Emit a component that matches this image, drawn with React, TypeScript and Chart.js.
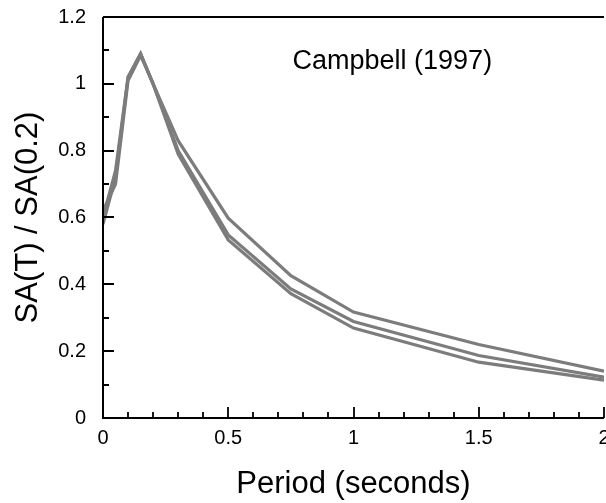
import { useEffect, useRef } from 'react';
import { Chart, registerables } from 'chart.js';

Chart.register(...registerables);

// ---- data ----
const periods = [0, 0.05, 0.1, 0.15, 0.2, 0.3, 0.5, 0.75, 1.0, 1.5, 2.0];
const upperCurve = [0.6, 0.74, 1.02, 1.09, 1.0, 0.83, 0.598, 0.426, 0.317, 0.22, 0.14];
const middleCurve = [0.62, 0.7, 1.01, 1.085, 1.0, 0.8, 0.548, 0.386, 0.289, 0.187, 0.122];
const lowerCurve = [0.58, 0.72, 1.02, 1.09, 1.0, 0.79, 0.533, 0.372, 0.269, 0.167, 0.113];
const curves = [upperCurve, middleCurve, lowerCurve];

const xMin = 0, xMax = 2, xMajor = 0.5, xMinor = 0.1;
const yMin = 0, yMax = 1.2, yMajor = 0.2, yMinor = 0.1;

const xTitle = 'Period (seconds)';
const yTitle = 'SA(T) / SA(0.2)';
const noteText = 'Campbell (1997)';
const noteX = 1.155;
const noteY = 1.044;

const FONT = "'Liberation Sans', Arial, Helvetica, sans-serif";
const W = 650;
const H = 503;

const fmt = (v: any) => String(+Number(v).toFixed(3));

const frame = {
  id: 'frame',
  afterDraw(chart: any) {
    const { ctx, chartArea, scales } = chart;
    const { left, right, top, bottom } = chartArea;
    ctx.save();
    ctx.strokeStyle = '#000';
    ctx.lineWidth = 2;
    ctx.beginPath();
    ctx.moveTo(left, top);
    ctx.lineTo(right, top);
    ctx.moveTo(left, top);
    ctx.lineTo(left, bottom);
    ctx.lineTo(right, bottom);
    ctx.stroke();
    ctx.lineWidth = 1.8;
    ctx.beginPath();
    const nx = Math.round((xMax - xMin) / xMinor);
    for (let i = 0; i <= nx; i++) {
      const v = xMin + i * xMinor;
      const major = Math.abs(v / xMajor - Math.round(v / xMajor)) < 1e-6;
      const px = Math.round(scales.x.getPixelForValue(v));
      ctx.moveTo(px, bottom);
      ctx.lineTo(px, bottom - (major ? 11 : 6));
    }
    const ny = Math.round((yMax - yMin) / yMinor);
    for (let i = 0; i <= ny; i++) {
      const v = yMin + i * yMinor;
      const major = Math.abs(v / yMajor - Math.round(v / yMajor)) < 1e-6;
      const py = Math.round(scales.y.getPixelForValue(v));
      ctx.moveTo(left, py);
      ctx.lineTo(left + (major ? 11 : 6), py);
    }
    ctx.stroke();
    ctx.fillStyle = '#000';
    ctx.font = `27px ${FONT}`;
    ctx.textAlign = 'center';
    ctx.textBaseline = 'alphabetic';
    ctx.fillText(noteText, scales.x.getPixelForValue(noteX), scales.y.getPixelForValue(noteY));
    ctx.restore();
  },
};

export default function App() {
  const ref = useRef<HTMLCanvasElement | null>(null);
  useEffect(() => {
    const canvas = ref.current;
    if (!canvas) return;
    const datasets: any[] = [];
    curves.forEach((c, i) => {
      const pts = periods.map((p, k) => ({ x: p, y: c[k] }));
      datasets.push({
        label: 'outline' + i,
        data: pts,
        borderColor: '#7c7c7c',
        borderWidth: 3.2,
        pointRadius: 0,
        fill: false,
        tension: 0,
      });
      datasets.push({
        label: 'core' + i,
        data: pts,
        borderColor: '#ffffff',
        borderWidth: 1.3,
        pointRadius: 0,
        fill: false,
        tension: 0,
      });
    });
    const chart = new Chart(canvas, {
      type: 'line',
      data: { datasets },
      plugins: [frame],
      options: {
        animation: false,
        responsive: false,
        maintainAspectRatio: false,
        layout: { padding: { top: 17, right: W - 604, left: 0, bottom: 0 } },
        plugins: { legend: { display: false }, tooltip: { enabled: false } },
        scales: {
          x: {
            type: 'linear',
            min: xMin,
            max: xMax,
            grid: { display: false, drawTicks: false },
            border: { display: false },
            ticks: {
              stepSize: xMajor,
              color: '#000',
              padding: 8,
              font: { family: FONT, size: 20 },
              callback: fmt,
            },
            title: {
              display: true,
              text: xTitle,
              color: '#000',
              font: { family: FONT, size: 31 },
              padding: { top: 0, bottom: 0 },
            },
            afterFit(scale: any) {
              scale.height = H - 418;
            },
          },
          y: {
            type: 'linear',
            min: yMin,
            max: yMax,
            grid: {
              display: true,
              drawOnChartArea: false,
              drawTicks: true,
              tickLength: 12,
              color: 'rgba(0,0,0,0)',
              tickColor: 'rgba(0,0,0,0)',
            },
            border: { display: false },
            ticks: {
              stepSize: yMajor,
              color: '#000',
              padding: 5,
              font: { family: FONT, size: 20 },
              callback: fmt,
            },
            title: {
              display: true,
              text: yTitle,
              color: '#000',
              font: { family: FONT, size: 31 },
              padding: { top: 10, bottom: 10 },
            },
            afterFit(scale: any) {
              scale.width = 103;
            },
          },
        },
      },
    });
    return () => chart.destroy();
  }, []);
  return (
    <div style={{ position: 'fixed', left: 0, top: 0, width: 606, height: 503, overflow: 'hidden', background: '#fff' }}>
      <canvas ref={ref} width={W} height={H} style={{ display: 'block', width: W, height: H }} />
    </div>
  );
}
